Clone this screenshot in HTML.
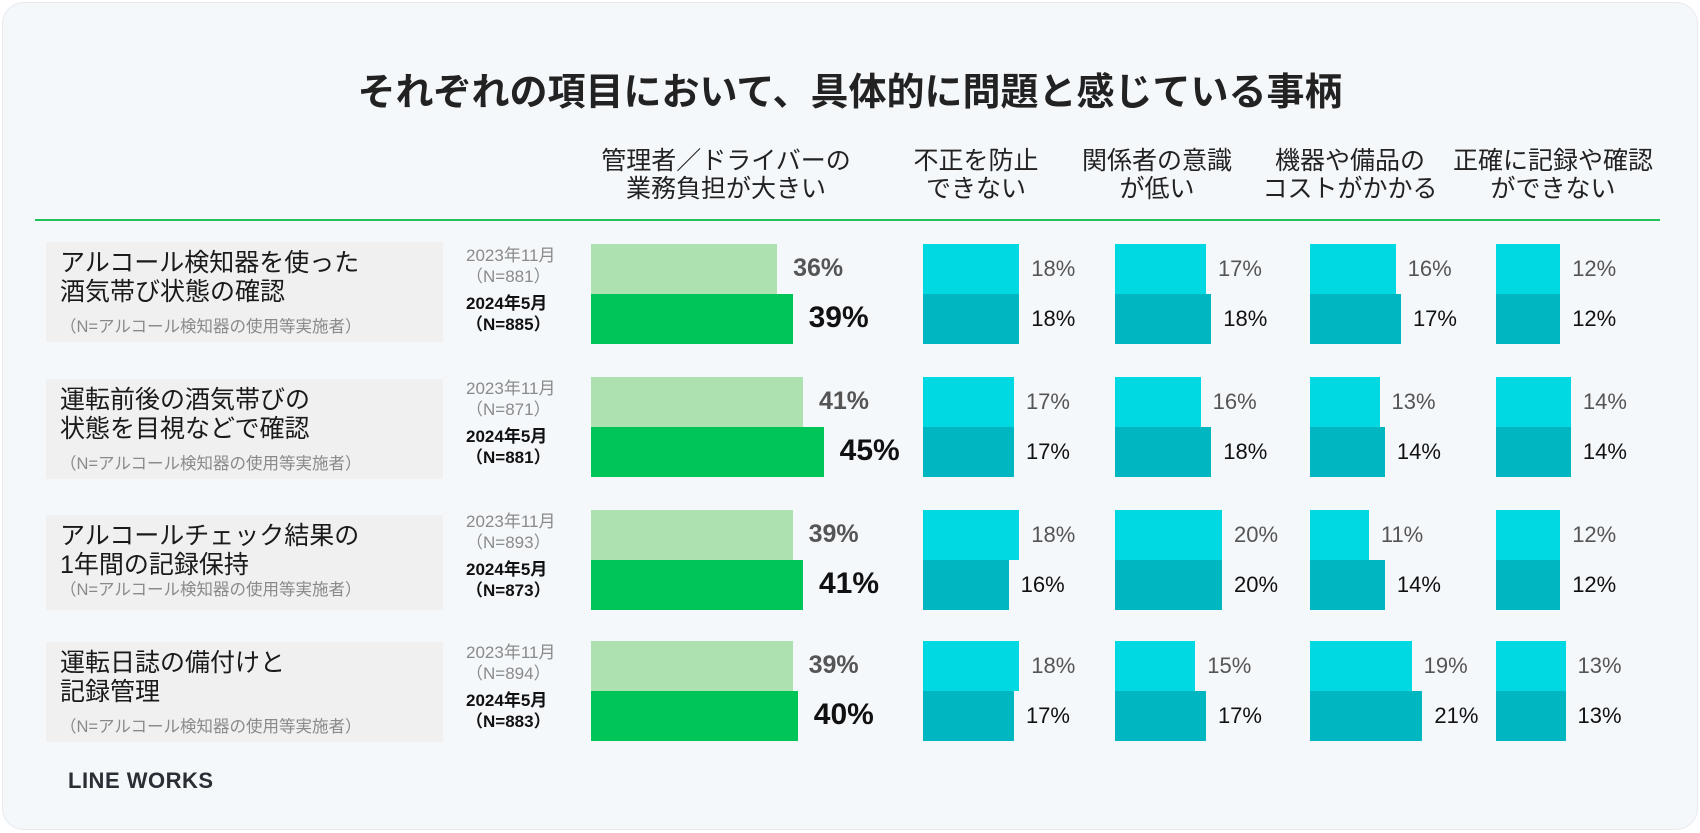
<!DOCTYPE html>
<html><head><meta charset="utf-8">
<style>
html,body{margin:0;padding:0;background:#fff;}
body{width:1700px;height:833px;position:relative;overflow:hidden;font-family:"Liberation Sans","Noto Sans CJK JP",sans-serif;}
#card{position:absolute;left:2px;top:2px;width:1694px;height:826px;background:#f5f8fb;border:1px solid #e6e9ee;border-radius:22px;}
.abs{position:absolute;}
.t{white-space:nowrap;}
</style></head>
<body>
<div id="card"></div>
<div class="abs t" style="left:0;width:1700px;top:61px;text-align:center;font-size:38px;font-weight:bold;color:#222;">それぞれの項目において、具体的に問題と感じている事柄</div>
<div id="heads"></div>
<div class="abs" style="left:35px;top:219px;width:1625px;height:2px;background:#22c25a;"></div>
<div id="rows"></div>
<div id="bars"></div>
<div class="abs t" style="left:68px;top:768px;font-size:22px;font-weight:bold;color:#2a2f36;letter-spacing:0.5px;">LINE WORKS</div>
<script>
const categories=["管理者／ドライバーの\n業務負担が大きい","不正を防止\nできない","関係者の意識\nが低い","機器や備品の\nコストがかかる","正確に記録や確認\nができない"];
const rowTitles=["アルコール検知器を使った\n酒気帯び状態の確認","運転前後の酒気帯びの\n状態を目視などで確認","アルコールチェック結果の\n1年間の記録保持","運転日誌の備付けと\n記録管理"];
const n2023=["881","871","893","894"];
const n2024=["885","881","873","883"];
const v2023=[[36,18,17,16,12],[41,17,16,13,14],[39,18,20,11,12],[39,18,15,19,13]];
const v2024=[[39,18,18,17,12],[45,17,18,14,14],[41,16,20,14,12],[40,17,17,21,13]];

const colX=[591,923,1115,1310,1496];
const colCenter=[726,976,1157,1350,1553];
const rowTop=[244,377,510,641];
const barH=50;
function xs(col,v){return v*(col===0?5.17:5.35);}

const heads=document.getElementById('heads');
categories.forEach((c,i)=>{
  const d=document.createElement('div');
  
  
  d.className='abs t';
  d.style.cssText=`left:${colCenter[i]-150}px;width:300px;top:147px;text-align:center;font-size:25px;line-height:28px;color:#222;`;
  d.innerHTML=c.replace('\n','<br>');
  heads.appendChild(d);
});
const rows=document.getElementById('rows');
rowTitles.forEach((r,i)=>{
  const top=[242,379,515,642][i];
  const b=document.createElement('div');
  
  
  b.className='abs';
  b.style.cssText=`left:46px;top:${top}px;width:397px;height:${i==2?95:100}px;background:#f0f0f1;`;
  b.innerHTML=`<div class="abs t" style="left:14px;top:7px;font-size:25px;line-height:29px;color:#1a1a1a;">${r.replace('\n','<br>')}</div><div class="abs t" style="left:14px;top:${i==2?61:71}px;font-size:16.5px;color:#8a8a8a;">（N=アルコール検知器の使用等実施者）</div>`;
  rows.appendChild(b);
  const n=document.createElement('div');
  
  
  n.className='abs t';
  n.style.cssText=`left:466px;top:${rowTop[i]+1}px;font-size:17px;line-height:21px;`;
  n.innerHTML=`<div style="color:#8a8a8a">2023年11月<br>（N=${n2023[i]}）</div><div style="color:#111;font-weight:bold;margin-top:6px">2024年5月<br>（N=${n2024[i]}）</div>`;
  rows.appendChild(n);
});
const bars=document.getElementById('bars');
for(let r=0;r<4;r++){
  for(let c=0;c<5;c++){
    [[v2023,0],[v2024,1]].forEach(([arr,k])=>{
      const v=arr[r][c];
      const w=xs(c,v);
      const y=rowTop[r]+k*barH;
      const bar=document.createElement('div');
      
      
      bar.className='abs';
      const col=c===0?(k?'#00c65a':'#ade2b0'):(k?'#00b7c1':'#00d9e2');
      bar.style.cssText=`left:${colX[c]}px;top:${y}px;width:${w}px;height:${barH}px;background:${col};`;
      bars.appendChild(bar);
      const lb=document.createElement('div');
      
      
      lb.className='abs t';
      let fs,fw,clr;
      if(c===0){fs=k?30:25;fw='bold';clr=k?'#111':'#555';}else{fs=22;fw='normal';clr=k?'#111':'#555';}
      lb.style.cssText=`left:${colX[c]+w+(c===0?16:12)}px;top:${y+barH/2-fs*0.6}px;font-size:${fs}px;font-weight:${fw};color:${clr};`;
      lb.textContent=v+'%';
      bars.appendChild(lb);
    });
  }
}
</script>
</body></html>
